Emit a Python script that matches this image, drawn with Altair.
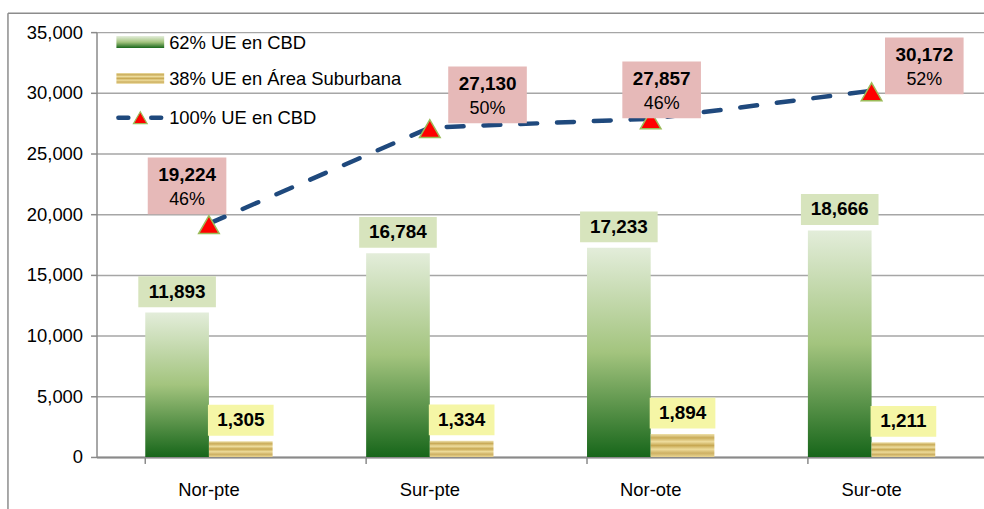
import altair as alt
import pandas as pd

# Chart data
regions = ["Nor-pte", "Sur-pte", "Nor-ote", "Sur-ote"]
ue_cbd_62 = [11893, 16784, 17233, 18666]
ue_sub_38 = [1305, 1334, 1894, 1211]
ue_cbd_100 = [19224, 27130, 27857, 30172]
share_labels = ["46%", "50%", "46%", "52%"]
series_names = ["62% UE en CBD", "38% UE en Área Suburbana", "100% UE en CBD"]

# Placement of each callout box around its line point (pixels)
callout_dx = [-22, 58, 11, 53]
callout_dy = [-38, -33, -29, -25]

FONT = "Liberation Sans"
W, H = 892, 427

bars = pd.DataFrame({
    "region": regions * 2,
    "serie": [series_names[0]] * 4 + [series_names[1]] * 4,
    "value": ue_cbd_62 + ue_sub_38,
})
bars["label"] = bars["value"].map(lambda v: f"{v:,}")

line = pd.DataFrame({
    "region": regions,
    "value": ue_cbd_100,
    "pct": share_labels,
})
line["label"] = line["value"].map(lambda v: f"{v:,}")

x_enc = alt.X(
    "region:N", sort=regions, title=None,
    scale=alt.Scale(paddingInner=0.4234, paddingOuter=0.2207),
    axis=alt.Axis(labelAngle=0, labelFont=FONT, labelFontSize=18.5, labelColor="black",
                  labelPadding=24, ticks=False, domain=True, domainColor="#8a8a8a",
                  domainWidth=2, grid=False),
)
y_enc = alt.Y(
    "value:Q", title=None,
    scale=alt.Scale(domain=[0, 35000], nice=False),
    axis=alt.Axis(values=list(range(0, 35001, 5000)), format=",.0f", formatType="number",
                  labelFont=FONT, labelFontSize=18.5, labelColor="black", labelPadding=8,
                  tickSize=6, tickColor="#8a8a8a", tickWidth=1.5, domainColor="#8a8a8a",
                  domainWidth=1.5, gridColor="#a6a6a6", gridWidth=1.5),
)
xoff = alt.XOffset("serie:N", sort=series_names[:2],
                   scale=alt.Scale(domain=series_names[:2], paddingInner=0, paddingOuter=0))

green_grad = alt.Gradient(
    gradient="linear", x1=0, x2=0, y1=0, y2=1,
    stops=[alt.GradientStop(offset=0, color="#E3EDDA"),
           alt.GradientStop(offset=0.5, color="#A3C47E"),
           alt.GradientStop(offset=1, color="#17661A")],
)
gold_stops = []
for i, c in enumerate(["#EFE2AC", "#C9AB58", "#EEDD9E", "#C7A852", "#EDDB9A", "#CDB063", "#E9D592"]):
    gold_stops.append(alt.GradientStop(offset=i / 6, color=c))
gold_grad = alt.Gradient(gradient="linear", x1=0, x2=0, y1=0, y2=1, stops=gold_stops)

base_bars = alt.Chart(bars).encode(x=x_enc, y=y_enc, xOffset=xoff)

green_bars = base_bars.transform_filter(
    alt.datum.serie == series_names[0]).mark_bar(color=green_grad, size=64)
gold_bars = base_bars.transform_filter(
    alt.datum.serie == series_names[1]).mark_bar(color=gold_grad, size=64)


def box_shape(ratio):
    return f"M-1,-{ratio}H1V{ratio}H-1Z"


green_box = base_bars.transform_filter(alt.datum.serie == series_names[0]).mark_point(
    shape=box_shape(31 / 78), size=78 ** 2, filled=True, opacity=1, strokeWidth=0,
    color="#D7E4BD", yOffset=-21)
gold_box = base_bars.transform_filter(alt.datum.serie == series_names[1]).mark_point(
    shape=box_shape(31 / 66), size=66 ** 2, filled=True, opacity=1, strokeWidth=0,
    color="#F5F6A6", yOffset=-21)
bar_text = base_bars.mark_text(
    font=FONT, fontSize=19, fontWeight="bold", color="black", dy=-21, baseline="middle"
).encode(text="label:N")

base_line = alt.Chart(line).encode(x=x_enc, y=y_enc)
dash_line = base_line.mark_line(color="#1F497D", strokeWidth=4.5, strokeDash=[17, 20],
                                strokeCap="round")
tri = base_line.mark_point(shape="triangle-up", size=430, filled=True, opacity=1,
                           color="#FF0000", stroke="#9BBB59", strokeWidth=1.5, yOffset=1)

callouts = []
for i, r in enumerate(regions):
    one = base_line.transform_filter(alt.datum.region == r)
    dx, dy = callout_dx[i], callout_dy[i]
    callouts.append(one.mark_point(
        shape=box_shape(57 / 79), size=79 ** 2, filled=True, opacity=1, strokeWidth=0,
        color="#E6B9B8", xOffset=dx, yOffset=dy))
    callouts.append(one.mark_text(
        font=FONT, fontSize=19, fontWeight="bold", color="black", dx=dx, dy=dy - 11,
        baseline="middle").encode(text="label:N"))
    callouts.append(one.mark_text(
        font=FONT, fontSize=18, color="black", dx=dx, dy=dy + 14,
        baseline="middle").encode(text="pct:N"))

# Small ticks between categories on the x axis
edge_ticks = alt.Chart(pd.DataFrame({"region": regions})).mark_rule(
    color="#8a8a8a", strokeWidth=1.5).encode(
    x=alt.X("region:N", sort=regions, bandPosition=0),
    y=alt.value(H), y2=alt.value(H + 7))

# Legend drawn inside the plot area
one_row = pd.DataFrame({"k": [0]})
leg_green = alt.Chart(one_row).mark_rect(color=green_grad).encode(
    x=alt.value(20), x2=alt.value(68), y=alt.value(4), y2=alt.value(16))
leg_gold = alt.Chart(one_row).mark_rect(color=gold_grad).encode(
    x=alt.value(20), x2=alt.value(68), y=alt.value(41), y2=alt.value(52))
leg_dash1 = alt.Chart(one_row).mark_rule(color="#1F497D", strokeWidth=4.5, strokeCap="round").encode(
    x=alt.value(22), x2=alt.value(32), y=alt.value(86))
leg_dash2 = alt.Chart(one_row).mark_rule(color="#1F497D", strokeWidth=4.5, strokeCap="round").encode(
    x=alt.value(55), x2=alt.value(65), y=alt.value(86))
leg_tri = alt.Chart(one_row).mark_point(
    shape="triangle-up", size=190, filled=True, opacity=1, color="#FF0000",
    stroke="#9BBB59", strokeWidth=1.2).encode(x=alt.value(44), y=alt.value(86))
leg_texts = []
for name, yy in zip(series_names, [11, 47, 86]):
    leg_texts.append(alt.Chart(one_row).mark_text(
        font=FONT, fontSize=18.5, color="black", align="left", baseline="middle",
        text=name).encode(x=alt.value(73), y=alt.value(yy)))

# Outer frame of the chart
frame_left = alt.Chart(one_row).mark_rule(color="#8c8c8c", strokeWidth=1.5).encode(
    x=alt.value(-89), y=alt.value(-19), y2=alt.value(H + 60))
frame_top = alt.Chart(one_row).mark_rule(color="#8c8c8c", strokeWidth=1.5).encode(
    x=alt.value(-89), x2=alt.value(W + 10), y=alt.value(-19))

chart = alt.layer(
    frame_left, frame_top,
    green_bars, gold_bars, edge_ticks,
    dash_line, tri,
    green_box, gold_box, bar_text,
    *callouts,
    leg_green, leg_gold, leg_dash1, leg_dash2, leg_tri, *leg_texts,
).properties(
    width=W, height=H,
    autosize=alt.AutoSizeParams(type="none"),
    padding={"left": 97, "top": 31, "right": 0, "bottom": 51},
    background="white",
).configure_view(strokeWidth=0)

chart.save("out.html", embed_options={"renderer": "svg", "actions": False})
